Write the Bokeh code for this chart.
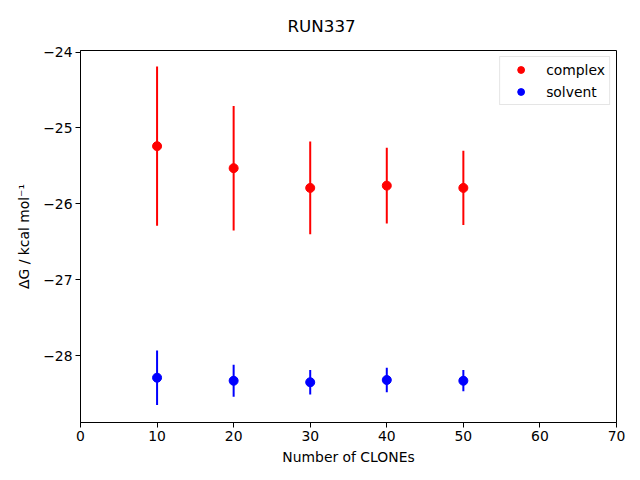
from bokeh.plotting import figure
from bokeh.models import Range1d, FixedTicker, ColumnDataSource, Legend, LegendItem, Title
from bokeh.embed import file_html
from bokeh.resources import INLINE

clones = [10, 20, 30, 40, 50]
complex_dg = [-25.24, -25.53, -25.79, -25.76, -25.79]
complex_err = [1.05, 0.82, 0.61, 0.50, 0.49]
solvent_dg = [-28.29, -28.33, -28.35, -28.32, -28.33]
solvent_err = [0.36, 0.21, 0.16, 0.16, 0.14]
x_ticks = [0, 10, 20, 30, 40, 50, 60, 70]
y_ticks = [-28, -27, -26, -25, -24]
title_text = "RUN337"

FONT = "DejaVu Sans"

p = figure(width=640, height=480, output_backend="svg", toolbar_location=None,
           title=None, x_range=Range1d(0, 70), y_range=Range1d(-28.88, -23.98))
p.min_border_left = 80
p.min_border_right = 24
p.min_border_top = 50
p.min_border_bottom = 58

spacer = Title(text=" ", text_font_size="1px", standoff=7)
p.add_layout(spacer, "above")
main_title = Title(text=title_text, align="left", offset=207, text_font=FONT,
                   text_font_size="16.7px", text_font_style="normal",
                   text_color="black")
p.add_layout(main_title, "above")

p.xgrid.visible = False
p.ygrid.visible = False
p.outline_line_color = "black"
p.outline_line_width = 1

for ax in (p.xaxis[0], p.yaxis[0]):
    ax.major_tick_in = 0
    ax.major_tick_out = 5
    ax.minor_tick_line_color = None
    ax.axis_line_color = "black"
    ax.major_tick_line_color = "black"
    ax.major_label_text_font = FONT
    ax.major_label_text_font_size = "13.9px"
    ax.major_label_text_color = "black"
    ax.axis_label_text_font = FONT
    ax.axis_label_text_font_size = "13.9px"
    ax.axis_label_text_font_style = "normal"
    ax.axis_label_text_color = "black"

p.xaxis.ticker = FixedTicker(ticks=x_ticks)
p.yaxis.ticker = FixedTicker(ticks=y_ticks)
p.yaxis.major_label_overrides = {t: "\u2212" + str(abs(t)) for t in y_ticks}
p.xaxis.axis_label = "Number of CLONEs"
p.yaxis.axis_label = "\u0394G / kcal mol\u207b\u00b9"
p.yaxis.major_label_standoff = 3
p.xaxis.major_label_standoff = 3
p.yaxis.axis_label_standoff = 8
p.xaxis.axis_label_standoff = 5

cs = ColumnDataSource(dict(x=clones, y=complex_dg,
                           lo=[v - e for v, e in zip(complex_dg, complex_err)],
                           hi=[v + e for v, e in zip(complex_dg, complex_err)]))
ss = ColumnDataSource(dict(x=clones, y=solvent_dg,
                           lo=[v - e for v, e in zip(solvent_dg, solvent_err)],
                           hi=[v + e for v, e in zip(solvent_dg, solvent_err)]))

p.segment(x0="x", y0="lo", x1="x", y1="hi", source=cs, line_color="red", line_width=2)
p.segment(x0="x", y0="lo", x1="x", y1="hi", source=ss, line_color="blue", line_width=2)
rc = p.scatter(x="x", y="y", source=cs, size=9, marker="circle", color="red")
rs = p.scatter(x="x", y="y", source=ss, size=9, marker="circle", color="blue")

legend = Legend(items=[LegendItem(label="complex", renderers=[rc]),
                       LegendItem(label="solvent", renderers=[rs])],
                location="top_right")
legend.label_text_font = FONT
legend.label_text_font_size = "13.9px"
legend.label_text_color = "black"
legend.border_line_color = "#cccccc"
legend.border_line_width = 1
legend.margin = 6
legend.padding = 4
legend.spacing = 5
legend.glyph_width = 33
legend.glyph_height = 17
legend.label_height = 17
legend.label_standoff = 9
p.add_layout(legend)

open("out.html", "w").write(file_html(p, INLINE))
